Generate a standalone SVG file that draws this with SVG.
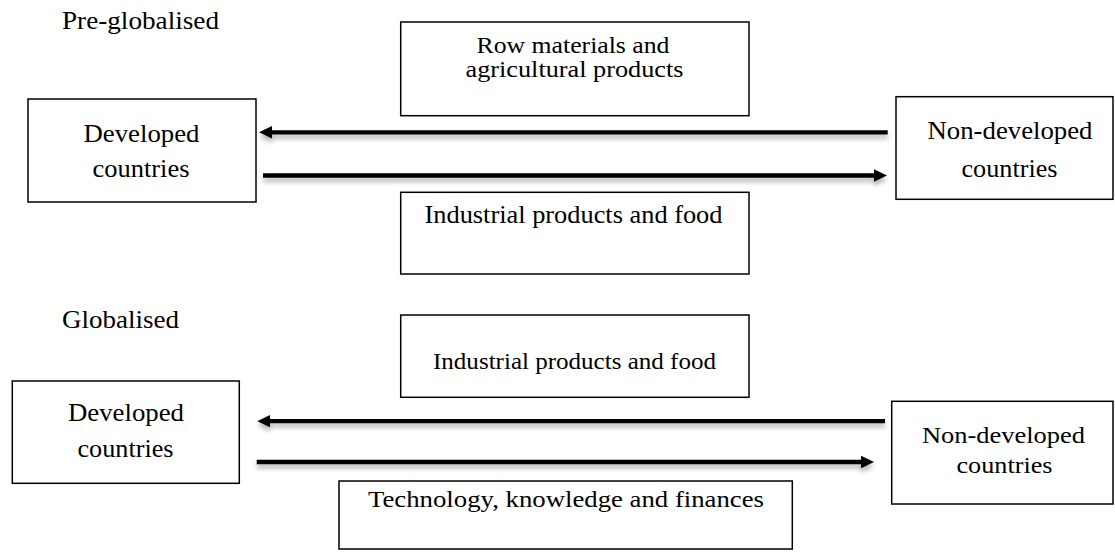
<svg xmlns="http://www.w3.org/2000/svg" width="1115" height="555" viewBox="0 0 1115 555">
<style>
.box{fill:#fff;stroke:#000;stroke-width:1.5}
.t{font-family:"Liberation Serif","Times New Roman",serif;font-size:25px;fill:#000}
.ts{font-family:"Liberation Serif","Times New Roman",serif;font-size:24px;fill:#000}
.tr{font-family:"Liberation Serif","Times New Roman",serif;font-size:23px;fill:#000}
.conn{stroke:#000;stroke-width:4.3;fill:none;marker-end:url(#ah)}
</style>
<defs>
<marker id="ah" markerUnits="userSpaceOnUse" markerWidth="14" markerHeight="13" refX="3" refY="6.3" orient="auto">
<path d="M0,0 L13,6.3 L0,12.6 Z" fill="#000"/>
</marker>
<filter id="sh" filterUnits="userSpaceOnUse" x="0" y="0" width="1115" height="555">
<feDropShadow dx="0" dy="4" stdDeviation="2.5" flood-color="#000" flood-opacity="0.3"/>
</filter>
</defs>
<rect width="1115" height="555" fill="#fff"/>

<text class="t" x="62" y="29" textLength="157" lengthAdjust="spacingAndGlyphs">Pre-globalised</text>
<text class="t" x="62" y="328" textLength="117" lengthAdjust="spacingAndGlyphs">Globalised</text>

<g id="connectors">
<g filter="url(#sh)"><line class="conn" x1="887.7" y1="132.3" x2="269" y2="132.3"/></g>
<g filter="url(#sh)"><line class="conn" x1="263" y1="175.5" x2="877" y2="175.5"/></g>
<g filter="url(#sh)"><line class="conn" x1="885" y1="421.2" x2="267.3" y2="421.2"/></g>
<g filter="url(#sh)"><line class="conn" x1="256.7" y1="462" x2="864" y2="462"/></g>
</g>

<g id="top-developed">
<rect class="box" x="28" y="99" width="228" height="103"/>
<text class="t" x="83.5" y="142" textLength="116" lengthAdjust="spacingAndGlyphs">Developed</text>
<text class="t" x="92.5" y="177" textLength="97" lengthAdjust="spacingAndGlyphs">countries</text>
</g>
<g id="top-raw">
<rect class="box" x="400.7" y="22" width="348.3" height="93.7"/>
<text class="tr" x="476.5" y="53" textLength="193" lengthAdjust="spacingAndGlyphs">Row materials and</text>
<text class="tr" x="465.5" y="77" textLength="218" lengthAdjust="spacingAndGlyphs">agricultural products</text>
</g>
<g id="top-industrial">
<rect class="box" x="400.7" y="192.3" width="348.3" height="81.7"/>
<text class="t" x="424.5" y="223" textLength="298" lengthAdjust="spacingAndGlyphs">Industrial products and food</text>
</g>
<g id="top-nondeveloped">
<rect class="box" x="896" y="96.7" width="217" height="102.6"/>
<text class="t" x="927.5" y="139" textLength="165" lengthAdjust="spacingAndGlyphs">Non-developed</text>
<text class="t" x="961.5" y="177" textLength="96" lengthAdjust="spacingAndGlyphs">countries</text>
</g>

<g id="bottom-developed">
<rect class="box" x="12.3" y="381" width="227" height="102.3"/>
<text class="t" x="68" y="421" textLength="116" lengthAdjust="spacingAndGlyphs">Developed</text>
<text class="t" x="77.5" y="457" textLength="96" lengthAdjust="spacingAndGlyphs">countries</text>
</g>
<g id="bottom-industrial">
<rect class="box" x="400.7" y="315" width="348.3" height="82.3"/>
<text class="ts" x="433" y="369" textLength="283" lengthAdjust="spacingAndGlyphs">Industrial products and food</text>
</g>
<g id="bottom-technology">
<rect class="box" x="339" y="481" width="453.3" height="68"/>
<text class="ts" x="368" y="507" textLength="396" lengthAdjust="spacingAndGlyphs">Technology, knowledge and finances</text>
</g>
<g id="bottom-nondeveloped">
<rect class="box" x="891.7" y="401.3" width="221.3" height="102.7"/>
<text class="ts" x="922" y="443" textLength="163" lengthAdjust="spacingAndGlyphs">Non-developed</text>
<text class="ts" x="956.5" y="473" textLength="96" lengthAdjust="spacingAndGlyphs">countries</text>
</g>
</svg>
